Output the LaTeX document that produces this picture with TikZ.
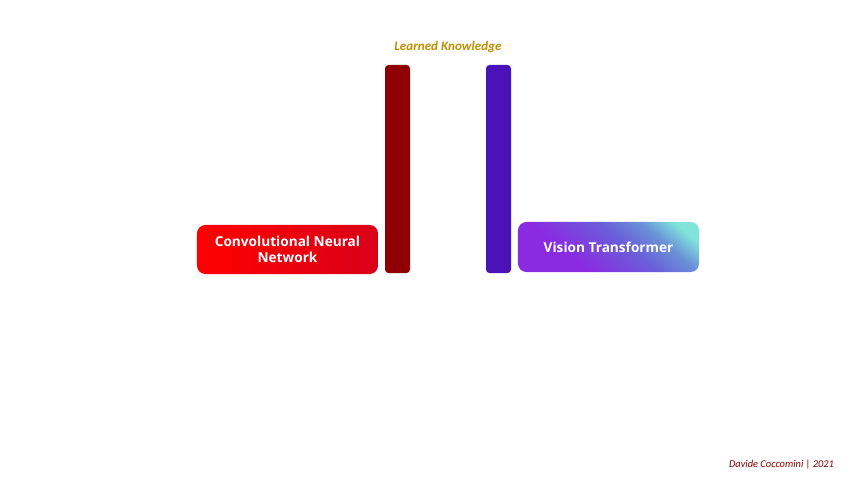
\documentclass[tikz,border=0pt]{standalone}
\usepackage{fontspec}
\setmainfont{Open Sans}
\newfontfamily\calfont{Carlito}
\definecolor{cnnLeft}{HTML}{FF0000}
\definecolor{cnnRight}{HTML}{D80018}
\definecolor{cnnBar}{HTML}{8E0004}
\definecolor{vitBar}{HTML}{4A13B8}
\definecolor{vitLow}{HTML}{8A2BE2}
\definecolor{vitMid}{HTML}{6A5FDA}
\definecolor{vitBlue}{HTML}{6A92D8}
\definecolor{vitHigh}{HTML}{80E4DA}
\definecolor{goldText}{HTML}{C09000}
\definecolor{signText}{HTML}{8B0000}
\pgfdeclareverticalshading{vitshade}{100bp}{color(0bp)=(vitLow); color(36bp)=(vitLow);
  color(56bp)=(vitMid); color(68bp)=(vitBlue); color(78bp)=(vitHigh); color(100bp)=(vitHigh)}

\begin{document}
\begin{tikzpicture}[
    x=0.025cm, y=-0.025cm,
    model/.style={rectangle, rounded corners=6pt, text=white, align=center,
                  font=\fontsize{9.7}{11.5}\selectfont\bfseries,
                  minimum width=4.525cm, inner sep=0pt},
    cnn/.style={model, minimum height=1.225cm, left color=cnnLeft, right color=cnnRight},
    vit/.style={model, minimum height=1.25cm, shading=vitshade, shading angle=-40},
    bar/.style={rectangle, rounded corners=2.5pt, minimum width=0.625cm,
                minimum height=5.2cm, inner sep=0pt},
  ]

  \useasboundingbox[fill=white] (0,0) rectangle (853,480);

  % BARS
  \node[bar, fill=cnnBar] (cnnbar) at (397.5, 169) {};
  \node[bar, fill=vitBar] (vitbar) at (498.5, 169) {};
  \node[text=goldText, font=\calfont\fontsize{9.3}{11}\selectfont\bfseries\itshape]
    (learned) at (448, 47) {Learned Knowledge};

  % MODELS
  \node[cnn] (cnnbox) at (287.5, 249.5) {Convolutional Neural\\Network};
  \node[vit] (vitbox) at (608.5, 247) {Vision Transformer};

  % SIGNATURE
  \node[anchor=east, text=signText, font=\calfont\fontsize{7.4}{8}\selectfont\itshape]
    (sign) at (839, 465) {Davide Coccomini | 2021};

\end{tikzpicture}
\end{document}
